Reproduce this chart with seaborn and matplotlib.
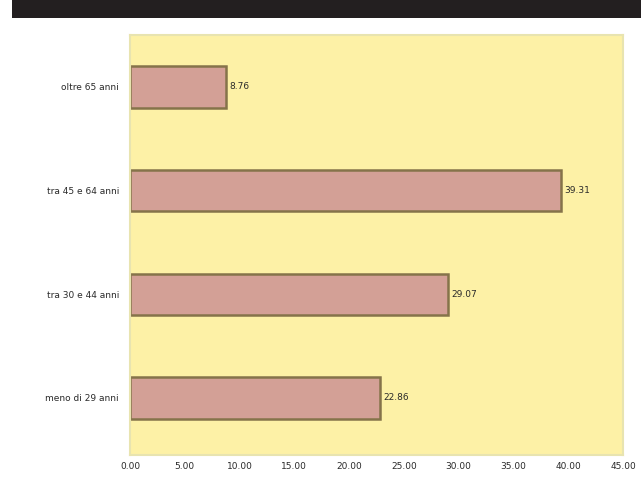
import matplotlib
matplotlib.use("Agg")
import matplotlib.pyplot as plt
import seaborn as sns
import pandas as pd
from matplotlib.patches import Rectangle

categories = ["oltre 65 anni", "tra 45 e 64 anni", "tra 30 e 44 anni", "meno di 29 anni"]
values = [8.76, 39.31, 29.07, 22.86]
value_labels = ["8.76", "39.31", "29.07", "22.86"]
xticks = [0, 5, 10, 15, 20, 25, 30, 35, 40, 45]

df = pd.DataFrame({"fascia": categories, "valore": values})

sns.set_theme(style="white")
plt.rcParams['font.family'] = ['DejaVu Sans']

fig = plt.figure(figsize=(6.41, 5.03), dpi=100)
fig.patch.set_facecolor("white")
# black band at top
fig.patches.append(Rectangle((12/641, 1 - 18/503), 1 - 12/641, 18/503,
                             transform=fig.transFigure, facecolor="#231f20",
                             edgecolor="none", zorder=0))

ax = fig.add_axes([130/641, 48/503, 493/641, 420/503])
ax.set_facecolor("#fdf1a6")

sns.barplot(data=df, y="fascia", x="valore", orient="h", ax=ax,
            color="#d3a096", edgecolor="#85734a", linewidth=1.8,
            width=0.4, saturation=1)

ax.set_xlim(0, 45)
ax.set_ylim(3.55, -0.5)
ax.set_xticks(xticks)
ax.set_xticklabels([f"{t:.2f}" for t in xticks], fontsize=6.5, color="#2a2a2a")
ax.tick_params(axis="y", labelsize=6.5, colors="#2a2a2a", length=0, pad=8)
ax.tick_params(axis="x", length=0, pad=5)
ax.set_xlabel("")
ax.set_ylabel("")

for i, (v, lab) in enumerate(zip(values, value_labels)):
    ax.text(v + 0.3, i, lab, va="center", ha="left", fontsize=6.5, color="#2a2a2a")

for s in ax.spines.values():
    s.set_color("#e8e4b0")
    s.set_linewidth(1.5)

fig.savefig("out.png", dpi=100)
